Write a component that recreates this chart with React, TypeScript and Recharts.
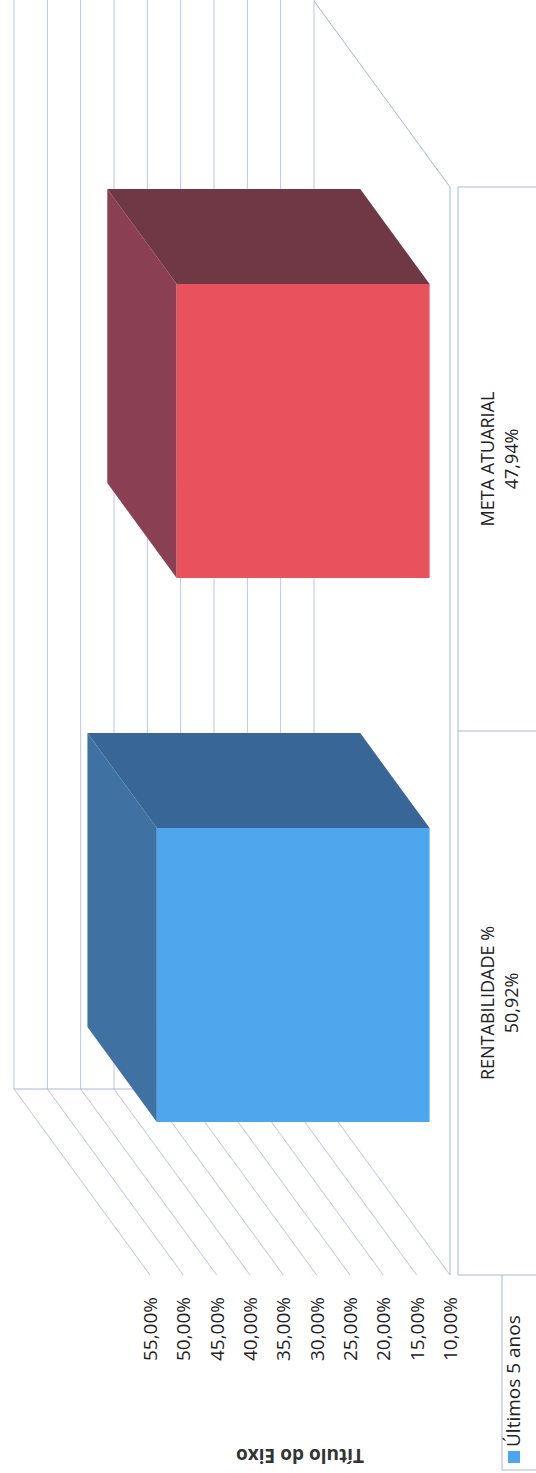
import React from 'react';
import { BarChart, Bar, XAxis, YAxis } from 'recharts';

const categories = ['RENTABILIDADE %', 'META ATUARIAL'];
const values = [50.92, 47.94];
const seriesName = 'Últimos 5 anos';
const yTicks = [10, 15, 20, 25, 30, 35, 40, 45, 50, 55];
const axisTitle = 'Título do Eixo';

const frontColors = ['#4ea7ec', '#e9515d'];
const topColors = ['#3f72a3', '#8b3f52'];
const sideColors = ['#386797', '#6f3844'];

// chart is drawn landscape, then rotated to portrait
const W = 1473;
const H = 536;
const M = { top: 150, right: 187, bottom: 86, left: 198 };
const DEPTH = { dx: 186, dy: -136 };
const FONT = '"Open Sans", "Liberation Sans", sans-serif';
const GRID = '#a9b6d6';

const data = categories.map((c, i) => ({ name: c, value: values[i], idx: i }));
const fmt = (v: number) => v.toFixed(2).replace('.', ',') + '%';

const Bar3D = (props: any) => {
  const { x, y, width, height, payload } = props;
  const i = payload.idx;
  const ox = DEPTH.dx * 0.15;
  const oy = DEPTH.dy * 0.15;
  const bx = DEPTH.dx * 0.51;
  const by = DEPTH.dy * 0.51;
  const fx = x + ox;
  const fy = y + oy;
  return (
    <g>
      <polygon
        points={`${fx},${fy} ${fx + bx},${fy + by} ${fx + width + bx},${fy + by} ${fx + width},${fy}`}
        fill={topColors[i]}
      />
      <polygon
        points={`${fx + width},${fy} ${fx + width + bx},${fy + by} ${fx + width + bx},${fy + height + by} ${fx + width},${fy + height}`}
        fill={sideColors[i]}
      />
      <rect x={fx} y={fy} width={width} height={height} fill={frontColors[i]} />
    </g>
  );
};

function Walls() {
  const plotH = H - M.top - M.bottom;
  const x0 = M.left;
  const x1 = W - M.right;
  const yOf = (v: number) => M.top + plotH * (1 - (v - 10) / 45);
  const yBase = yOf(10);
  const colX = x0 + (x1 - x0) / 2;
  return (
    <svg width={W} height={H} style={{ position: 'absolute', left: 0, top: 0 }}>
      {yTicks.map((t) => (
        <g key={t}>
          <line x1={x0} y1={yOf(t)} x2={x0 + DEPTH.dx} y2={yOf(t) + DEPTH.dy} stroke={GRID} strokeWidth={0.8} />
          <line x1={x0 + DEPTH.dx} y1={yOf(t) + DEPTH.dy} x2={W} y2={yOf(t) + DEPTH.dy} stroke={GRID} strokeWidth={0.8} />
          <text x={x0 - 22} y={yOf(t)} dy={7} textAnchor="end" fontSize={19} fontFamily={FONT} fill="#222">
            {fmt(t)}
          </text>
        </g>
      ))}
      <line x1={x0} y1={yBase} x2={x1} y2={yBase} stroke={GRID} />
      <line x1={x1} y1={yBase} x2={x1 + DEPTH.dx} y2={yBase + DEPTH.dy} stroke={GRID} />
      <line x1={x0 + DEPTH.dx} y1={yOf(55) + DEPTH.dy} x2={x0 + DEPTH.dx} y2={yBase + DEPTH.dy} stroke={GRID} />
      {/* data table */}
      <line x1={x0} y1={yBase + 8} x2={x1} y2={yBase + 8} stroke={GRID} />
      <line x1={3} y1={yBase + 52} x2={x0} y2={yBase + 52} stroke={GRID} />
      <line x1={3} y1={yBase + 52} x2={3} y2={H} stroke={GRID} />
      {[x0, colX, x1].map((cx) => (
        <line key={cx} x1={cx} y1={yBase + 8} x2={cx} y2={H} stroke={GRID} />
      ))}
      {categories.map((c, i) => {
        const cx = x0 + (x1 - x0) * (i + 0.5) / categories.length;
        return (
          <g key={c}>
            <text x={cx} y={yBase + 44} textAnchor="middle" fontSize={18} fontFamily={FONT} fill="#222">{c}</text>
            <text x={cx} y={yBase + 68} textAnchor="middle" fontSize={18} fontFamily={FONT} fill="#222">{fmt(values[i])}</text>
          </g>
        );
      })}
      <rect x={10} y={yBase + 58} width={12} height={12} fill={frontColors[0]} />
      <text x={26} y={yBase + 70} fontSize={19} fontFamily={FONT} fill="#222">{seriesName}</text>
      <text
        x={24}
        y={M.top + plotH / 2}
        transform={`rotate(-90 24 ${M.top + plotH / 2})`}
        textAnchor="middle"
        fontSize={19}
        fontWeight="bold"
        fontFamily={FONT}
        fill="#333"
      >
        {axisTitle}
      </text>
    </svg>
  );
}

export default function App() {
  return (
    <div style={{ position: 'fixed', left: 0, top: 0, width: 536, height: 1473, background: '#fff', overflow: 'hidden' }}>
      <div
        style={{
          position: 'absolute',
          left: 0,
          top: 0,
          width: W,
          height: H,
          transformOrigin: '0 0',
          transform: `translateY(${W}px) rotate(-90deg)`,
        }}
      >
        <Walls />
        <div style={{ position: 'absolute', left: 0, top: 0 }}>
          <BarChart width={W} height={H} data={data} margin={M} barCategoryGap="23%">
            <XAxis dataKey="name" hide />
            <YAxis domain={[10, 55]} ticks={yTicks} hide />
            <Bar dataKey="value" shape={<Bar3D />} isAnimationActive={false} />
          </BarChart>
        </div>
      </div>
    </div>
  );
}
